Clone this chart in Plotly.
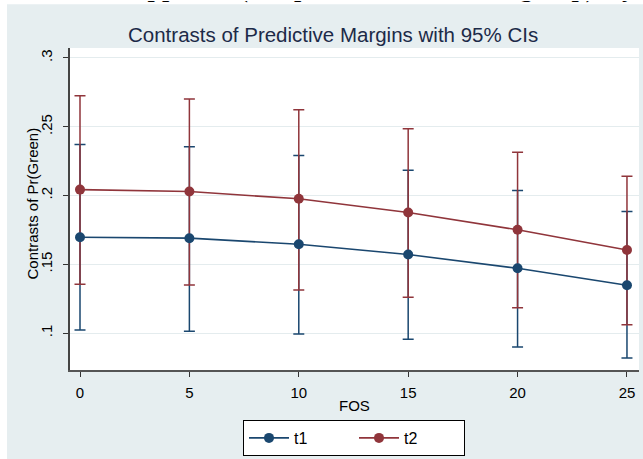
import plotly.graph_objects as go

# ---- data ----
fos = [0, 5, 10, 15, 20, 25]

t1_est = [0.1697, 0.1690, 0.1646, 0.1571, 0.1471, 0.1348]
t1_lo = [0.1022, 0.1014, 0.0993, 0.0955, 0.0899, 0.0819]
t1_hi = [0.2370, 0.2355, 0.2290, 0.2183, 0.2036, 0.1884]

t2_est = [0.2043, 0.2029, 0.1976, 0.1877, 0.1751, 0.1604]
t2_lo = [0.1355, 0.1350, 0.1314, 0.1261, 0.1184, 0.1060]
t2_hi = [0.2725, 0.2701, 0.2623, 0.2486, 0.2314, 0.2140]

series_names = ["t1", "t2"]
ytick_vals = [0.1, 0.15, 0.2, 0.25, 0.3]
ytick_text = [".1", ".15", ".2", ".25", ".3"]
xtick_vals = [0, 5, 10, 15, 20, 25]

title_text = "Contrasts of Predictive Margins with 95% CIs"
ytitle_text = "Contrasts of Pr(Green)"
xtitle_text = "FOS"
caption_text = "Effect of applause (compared to the control group), by"

# ---- styling ----
NAVY = "#1a476f"
MAROON = "#90353b"
BG = "#e6eef0"
GRID = "#e4ecee"
FONT = "Liberation Sans, Arial, sans-serif"

# plot-area pixel geometry (643 x 459 page)
L, R, T, B = 70, 4, 48, 88
W, H = 643, 459
PW, PH = W - L - R, H - T - B


def px_x(px):
    return (px - L) / PW


def px_y(py):
    return (H - B - py) / PH


fig = go.Figure()

est = [t1_est, t2_est]
lo = [t1_lo, t2_lo]
hi = [t1_hi, t2_hi]
colors = [NAVY, MAROON]

# error bars first (so markers sit on top)
for i in range(2):
    fig.add_trace(go.Scatter(
        x=fos, y=est[i], mode="markers",
        marker=dict(size=1, color="rgba(0,0,0,0)"),
        error_y=dict(
            type="data", symmetric=False,
            array=[h - e for h, e in zip(hi[i], est[i])],
            arrayminus=[e - l for e, l in zip(est[i], lo[i])],
            color=colors[i], thickness=1.5, width=5.5,
        ),
        showlegend=False, hoverinfo="skip",
    ))

for i in range(2):
    fig.add_trace(go.Scatter(
        x=fos, y=est[i], mode="lines+markers", name=series_names[i],
        line=dict(color=colors[i], width=1.6),
        marker=dict(color=colors[i], size=10),
    ))

fig.update_layout(
    width=W, height=H, autosize=False,
    margin=dict(l=L, r=R, t=T, b=B, pad=0),
    paper_bgcolor=BG, plot_bgcolor="white",
    font=dict(family=FONT, size=15, color="black"),
    showlegend=True,
    legend=dict(
        orientation="h", x=px_x(354), y=px_y(438),
        xanchor="center", yanchor="middle",
        bgcolor="white", bordercolor="black", borderwidth=1,
        font=dict(size=16, color="black"),
        itemwidth=40, entrywidth=55,
    ),
    xaxis=dict(
        range=[-0.457, 25.55], tickmode="array", tickvals=xtick_vals,
        ticks="outside", ticklen=5, tickwidth=1, tickcolor="#333",
        showline=True, linecolor="#555", linewidth=1.5,
        showgrid=False, zeroline=False, ticklabelstandoff=3,
        tickfont=dict(size=15, color="black"),
    ),
    yaxis=dict(
        range=[0.0732, 0.3072], tickmode="array",
        tickvals=ytick_vals, ticktext=ytick_text, tickangle=-90,
        ticks="outside", ticklen=5, tickwidth=1, tickcolor="#333",
        showline=True, linecolor="#444", linewidth=1.5,
        showgrid=True, gridcolor=GRID, gridwidth=1, zeroline=False,
        ticklabelstandoff=5,
        tickfont=dict(size=15, color="black"),
    ),
    shapes=[
        dict(type="rect", xref="paper", yref="paper", layer="below",
             x0=px_x(-20), x1=px_x(7), y0=px_y(480), y1=px_y(-20),
             fillcolor="white", line=dict(width=0)),
        dict(type="rect", xref="paper", yref="paper", layer="below",
             x0=px_x(-20), x1=px_x(660), y0=px_y(4), y1=px_y(-20),
             fillcolor="white", line=dict(width=0)),
    ],
    annotations=[
        dict(text=title_text, xref="paper", yref="paper",
             x=px_x(333), y=px_y(34), xanchor="center", yanchor="middle",
             showarrow=False, font=dict(size=20.5, color="#1c2a48", family=FONT)),
        dict(text=ytitle_text, xref="paper", yref="paper",
             x=px_x(33), y=px_y(204), xanchor="center", yanchor="middle",
             textangle=-90, showarrow=False,
             font=dict(size=15, color="black", family=FONT)),
        dict(text=xtitle_text, xref="paper", yref="paper",
             x=px_x(354), y=px_y(407), xanchor="center", yanchor="middle",
             showarrow=False, font=dict(size=15, color="black", family=FONT)),
        # cropped caption of the surrounding document: only its lower edge shows
        dict(text="<b>" + caption_text + "</b>", xref="paper", yref="paper",
             x=px_x(636), y=px_y(0), xanchor="right", yanchor="top",
             height=2, width=560, valign="bottom", align="right",
             borderpad=0, showarrow=False,
             font=dict(size=26, color="black", family="Liberation Serif, serif")),
    ],
)

fig.write_html(
    "out.html",
    config={"displayModeBar": False},
    post_script="document.body.style.margin='0';"
                "document.body.style.overflow='hidden';"
                "document.documentElement.style.overflow='hidden';",
)
